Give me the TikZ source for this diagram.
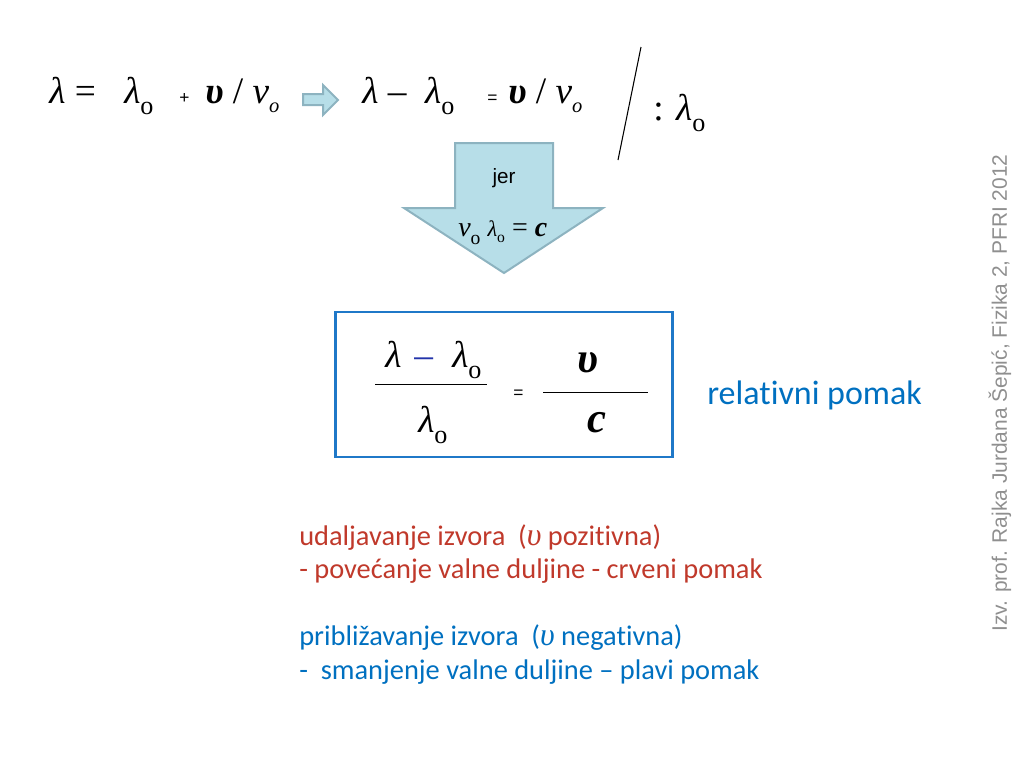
\documentclass[tikz,border=0pt]{standalone}
\usepackage{fontspec}
\setmainfont{Carlito}[Ligatures=NoCommon]
\newfontfamily\serif{Liberation Serif}
\newfontfamily\arial{Liberation Sans}
\definecolor{arrowfill}{HTML}{B7DEE8}
\definecolor{arrowdraw}{HTML}{8DB3C0}
\definecolor{boxblue}{HTML}{1F78C8}
\definecolor{minusblue}{HTML}{2233AA}
\definecolor{txtblue}{HTML}{0070C0}
\definecolor{txtred}{HTML}{C0392B}
\definecolor{sidegray}{HTML}{8F8F8F}
\newcommand\Lm{\textit{λ}}
\newcommand\Up{\textbf{\textit{υ}}}
\newcommand\Nu{\textit{ν}}
\newcommand\so{\raisebox{-0.3em}{\scalebox{0.7}{o}}}
\newcommand\sio{\raisebox{-0.25em}{\scalebox{0.55}{\textit{o}}}}
\tikzset{
  blockarrow/.style={fill=arrowfill,draw=arrowdraw,line width=1.5pt,line join=miter},
  frm/.style={anchor=base west,inner sep=0pt,font=\serif\fontsize{28}{28}\selectfont},
  big/.style={anchor=base west,inner sep=0pt,font=\serif\fontsize{32}{32}\selectfont},
  small/.style={anchor=base west,inner sep=0pt,font=\arial\fontsize{13}{13}\selectfont},
  body/.style={anchor=base west,inner sep=0pt,font=\fontsize{21.3}{25}\selectfont}
}
\begin{document}
\begin{tikzpicture}[x=0.75pt,y=-0.75pt]
\useasboundingbox (0,0) rectangle (1024,768);
% top formula
\node[frm] (t1) at (49,103) {\Lm\ =};
\node[frm] (t2) at (124,103) {\Lm\so};
\node[small] (t3) at (179,103) {+};
\node[frm] (t4) at (205,103) {\Up\ / \Nu\sio};
\draw[blockarrow] (303,94) -- (323,94) -- (323,85) -- (338,100) -- (323,115) -- (323,105) -- (303,105) -- cycle;
\node[frm] (t5) at (362,103) {\Lm\ –\ \ \Lm\so};
\node[small] (t6) at (487,103) {=};
\node[frm] (t7) at (508,103) {\Up\ / \Nu\sio};
\coordinate (s1) at (641,47);
\coordinate (s2) at (618,160);
\draw[line width=0.8pt] (s1) -- (s2);
\node[frm] (t8) at (653,120) {: \Lm\so};
% down arrow
\draw[blockarrow] (455,143) -- (553,143) -- (553,208) -- (603,208) -- (504,273) -- (404,208) -- (455,208) -- cycle;
\node[anchor=base,inner sep=0pt,font=\arial\fontsize{15.5}{15.5}\selectfont] (jer) at (504,183) {jer};
\node[anchor=base west,inner sep=0pt,font=\serif\fontsize{21}{21}\selectfont] (rel) at (458,236) {\Nu\so\ \scalebox{0.8}{\Lm\so}\ = \textbf{\textit{c}}};
% box
\node[draw=boxblue,line width=2.2pt,minimum width=337*0.75pt,minimum height=145*0.75pt,inner sep=0pt] (box) at (504,384.5) {};
\node[frm] (n1a) at (385,367) {\Lm};
\node[frm,text=minusblue] (n1b) at (414,367) {–};
\node[frm] (n1c) at (452,367) {\Lm\so};
\draw[line width=0.6pt] (375,384) -- (487,384);
\node[frm] (d1) at (418,432) {\Lm\so};
\node[small] (eq) at (513,398) {=};
\draw[line width=0.6pt] (543,392) -- (648,392);
\node[big] (n2) at (577,372) {\Up};
\node[big] (d2) at (587,432) {\textbf{\textit{c}}};
\node[anchor=base west,inner sep=0pt,font=\fontsize{25.5}{25.5}\selectfont,text=txtblue] (rp) at (707,404) {relativni pomak};
% side text
\node[rotate=90,inner sep=0pt,font=\arial\fontsize{15.7}{15.7}\selectfont,text=sidegray] (side) at (1000,393) {Izv. prof. Rajka Jurdana Šepić, Fizika 2, PFRI 2012};
% bottom text
\node[body,text=txtred] (b1) at (299,545) {udaljavanje izvora\ \ ({\serif\fontsize{24}{24}\selectfont\textit{υ}} pozitivna)};
\node[body,text=txtred] (b2) at (299,578) {- povećanje valne duljine - crveni pomak};
\node[body,text=txtblue] (b3) at (299,645) {približavanje izvora\ \ ({\serif\fontsize{24}{24}\selectfont\textit{υ}} negativna)};
\node[body,text=txtblue] (b4) at (299,679) {-\ \ smanjenje valne duljine – plavi pomak};
\end{tikzpicture}
\end{document}
